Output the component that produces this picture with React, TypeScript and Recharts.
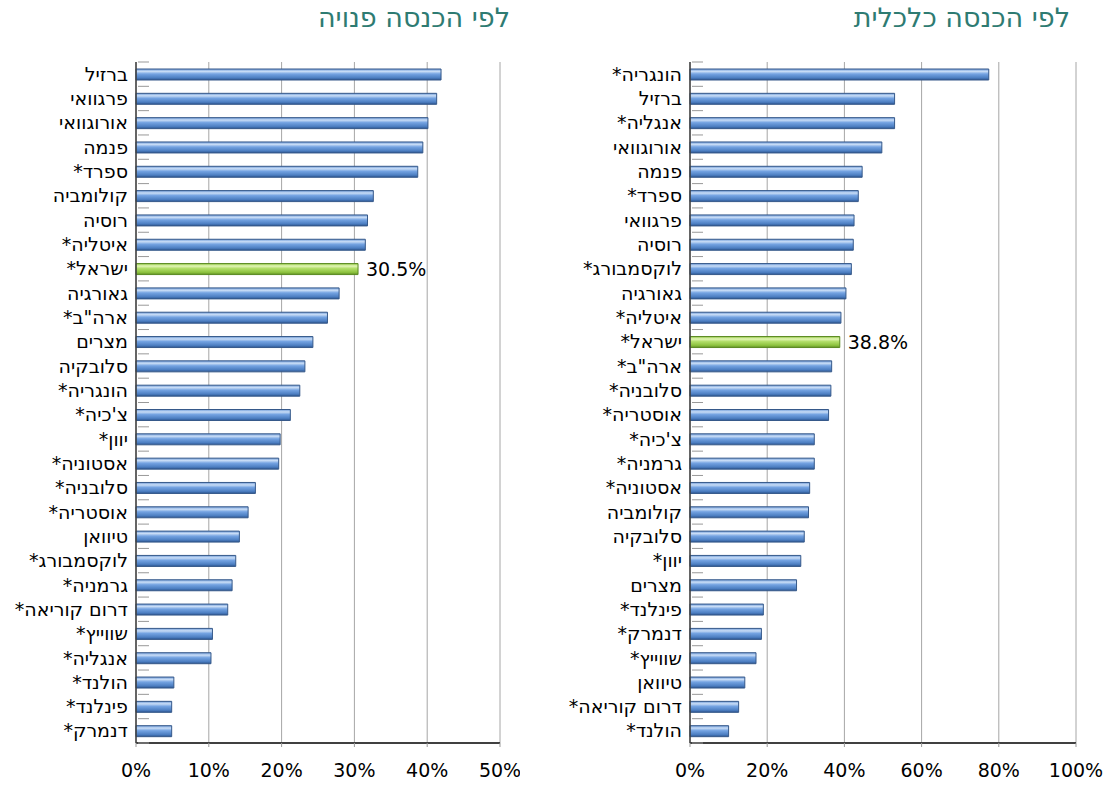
import { Bar, BarChart, CartesianGrid, Cell, XAxis, YAxis } from 'recharts';

const disposableNames = [
  'ברזיל', 'פרגוואי', 'אורוגוואי', 'פנמה', 'ספרד*', 'קולומביה', 'רוסיה', 'איטליה*',
  'ישראל*', 'גאורגיה', 'ארה"ב*', 'מצרים', 'סלובקיה', 'הונגריה*', "צ'כיה*", 'יוון*',
  'אסטוניה*', 'סלובניה*', 'אוסטריה*', 'טיוואן', 'לוקסמבורג*', 'גרמניה*', 'דרום קוריאה*',
  'שווייץ*', 'אנגליה*', 'הולנד*', 'פינלנד*', 'דנמרק*',
];
const disposableValues = [
  41.9, 41.3, 40.1, 39.4, 38.7, 32.6, 31.8, 31.5, 30.5, 27.9, 26.3, 24.3, 23.2, 22.5,
  21.2, 19.8, 19.6, 16.4, 15.4, 14.2, 13.7, 13.2, 12.6, 10.5, 10.3, 5.2, 4.9, 4.9,
];

const economicNames = [
  'הונגריה*', 'ברזיל', 'אנגליה*', 'אורוגוואי', 'פנמה', 'ספרד*', 'פרגוואי', 'רוסיה',
  'לוקסמבורג*', 'גאורגיה', 'איטליה*', 'ישראל*', 'ארה"ב*', 'סלובניה*', 'אוסטריה*',
  "צ'כיה*", 'גרמניה*', 'אסטוניה*', 'קולומביה', 'סלובקיה', 'יוון*', 'מצרים', 'פינלנד*',
  'דנמרק*', 'שווייץ*', 'טיוואן', 'דרום קוריאה*', 'הולנד*',
];
const economicValues = [
  77.4, 53.0, 53.0, 49.7, 44.6, 43.6, 42.5, 42.3, 41.8, 40.4, 39.1, 38.8, 36.7, 36.5,
  35.9, 32.2, 32.2, 31.0, 30.7, 29.6, 28.7, 27.6, 19.0, 18.5, 17.1, 14.2, 12.6, 10.0,
];

const disposableTicks = [0, 10, 20, 30, 40, 50];
const economicTicks = [0, 20, 40, 60, 80, 100];
const highlight = 'ישראל*';

const FONT = '"DejaVu Sans", Verdana, sans-serif';
const H = 785;
const TOP = 62;
const BOTTOM = 42;

// eslint-disable-next-line @typescript-eslint/no-explicit-any
function CategoryTick(props: any) {
  const { x, y, payload, index, step, visibleTicksCount } = props;
  const ax = x + 15;
  return (
    <g>
      <line x1={ax - 5} x2={ax + 6} y1={y - step / 2} y2={y - step / 2} stroke="#999" />
      {index === visibleTicksCount - 1 && (
        <line x1={ax - 5} x2={ax + 6} y1={y + step / 2} y2={y + step / 2} stroke="#999" />
      )}
      <text
        x={x}
        y={y}
        dy="0.35em"
        direction="rtl"
        textAnchor="start"
        fontSize={19}
        fill="#000"
        fontFamily={FONT}
      >
        {payload.value}
      </text>
    </g>
  );
}

interface PanelProps {
  title: string;
  titleRight: number;
  names: string[];
  values: number[];
  ticks: number[];
  left: number;
  width: number;
  axisWidth: number;
  rightMargin: number;
  gradId: string;
}

function Panel({ title, titleRight, names, values, ticks, left, width, axisWidth, rightMargin, gradId }: PanelProps) {
  const data = names.map((name, i) => ({ name, value: values[i] }));
  const max = ticks[ticks.length - 1];
  const step = (H - TOP - BOTTOM) / names.length;

  // eslint-disable-next-line @typescript-eslint/no-explicit-any
  const renderLabel = (p: any) => {
    if (data[p.index]?.name !== highlight) return null;
    return (
      <text x={p.x + p.width + 8} y={p.y + p.height / 2} dy="0.38em" fontSize={19} fontFamily={FONT} fill="#000">
        {`${p.value.toFixed(1)}%`}
      </text>
    );
  };

  return (
    <div style={{ position: 'absolute', left, top: 0, width, height: H }}>
      <div
        style={{
          position: 'absolute',
          right: titleRight,
          top: 2,
          direction: 'rtl',
          fontFamily: FONT,
          fontSize: 27,
          color: '#2e7b72',
          whiteSpace: 'nowrap',
        }}
      >
        {title}
      </div>
      <BarChart
        width={width}
        height={H}
        data={data}
        layout="vertical"
        margin={{ top: TOP, right: rightMargin, bottom: 0, left: 0 }}
        barSize={11}
      >
        <defs>
          <linearGradient id={`${gradId}-blue`} x1="0" y1="0" x2="0" y2="1">
            <stop offset="0%" stopColor="#6f9bd8" />
            <stop offset="22%" stopColor="#c9ddf6" />
            <stop offset="45%" stopColor="#74a3e2" />
            <stop offset="80%" stopColor="#4d7fc2" />
            <stop offset="100%" stopColor="#2c5590" />
          </linearGradient>
          <linearGradient id={`${gradId}-green`} x1="0" y1="0" x2="0" y2="1">
            <stop offset="0%" stopColor="#92c845" />
            <stop offset="22%" stopColor="#e4f6b8" />
            <stop offset="45%" stopColor="#b2de6a" />
            <stop offset="80%" stopColor="#8cc23e" />
            <stop offset="100%" stopColor="#5f8e25" />
          </linearGradient>
        </defs>
        <CartesianGrid horizontal={false} stroke="#a6a6a6" />
        <XAxis
          type="number"
          domain={[0, max]}
          ticks={ticks}
          tickFormatter={(v: number) => `${v}%`}
          height={BOTTOM}
          axisLine={{ stroke: '#404040', strokeWidth: 2 }}
          tickLine={{ stroke: '#999' }}
          tickSize={4}
          tickMargin={17}
          tick={{ fontSize: 19, fill: '#000', fontFamily: FONT }}
        />
        <XAxis
          xAxisId="top"
          orientation="top"
          type="number"
          domain={[0, max]}
          height={0}
          tick={false}
          tickLine={false}
          axisLine={{ stroke: '#404040', strokeWidth: 2 }}
        />
        <YAxis
          type="category"
          dataKey="name"
          width={axisWidth}
          interval={0}
          axisLine={{ stroke: '#404040', strokeWidth: 1.5 }}
          tickLine={false}
          tick={<CategoryTick step={step} />}
        />
        <YAxis
          yAxisId="right"
          orientation="right"
          type="category"
          dataKey="name"
          width={0}
          tick={false}
          tickLine={false}
          axisLine={{ stroke: '#404040', strokeWidth: 2 }}
        />
        <Bar dataKey="value" isAnimationActive={false} stroke="#36598a" strokeWidth={1} label={renderLabel}>
          {data.map((d) => (
            <Cell
              key={d.name}
              fill={d.name === highlight ? `url(#${gradId}-green)` : `url(#${gradId}-blue)`}
              stroke={d.name === highlight ? '#5a8a22' : '#36598a'}
            />
          ))}
        </Bar>
      </BarChart>
    </div>
  );
}

export default function App() {
  return (
    <div style={{ position: 'absolute', left: 0, top: 0, width: 1104, height: H, background: '#fff' }}>
      <Panel
        title="לפי הכנסה פנויה"
        titleRight={10}
        names={disposableNames}
        values={disposableValues}
        ticks={disposableTicks}
        left={0}
        width={520}
        axisWidth={136}
        rightMargin={20}
        gradId="disp"
      />
      <Panel
        title="לפי הכנסה כלכלית"
        titleRight={34}
        names={economicNames}
        values={economicValues}
        ticks={economicTicks}
        left={550}
        width={554}
        axisWidth={140}
        rightMargin={28}
        gradId="econ"
      />
    </div>
  );
}
